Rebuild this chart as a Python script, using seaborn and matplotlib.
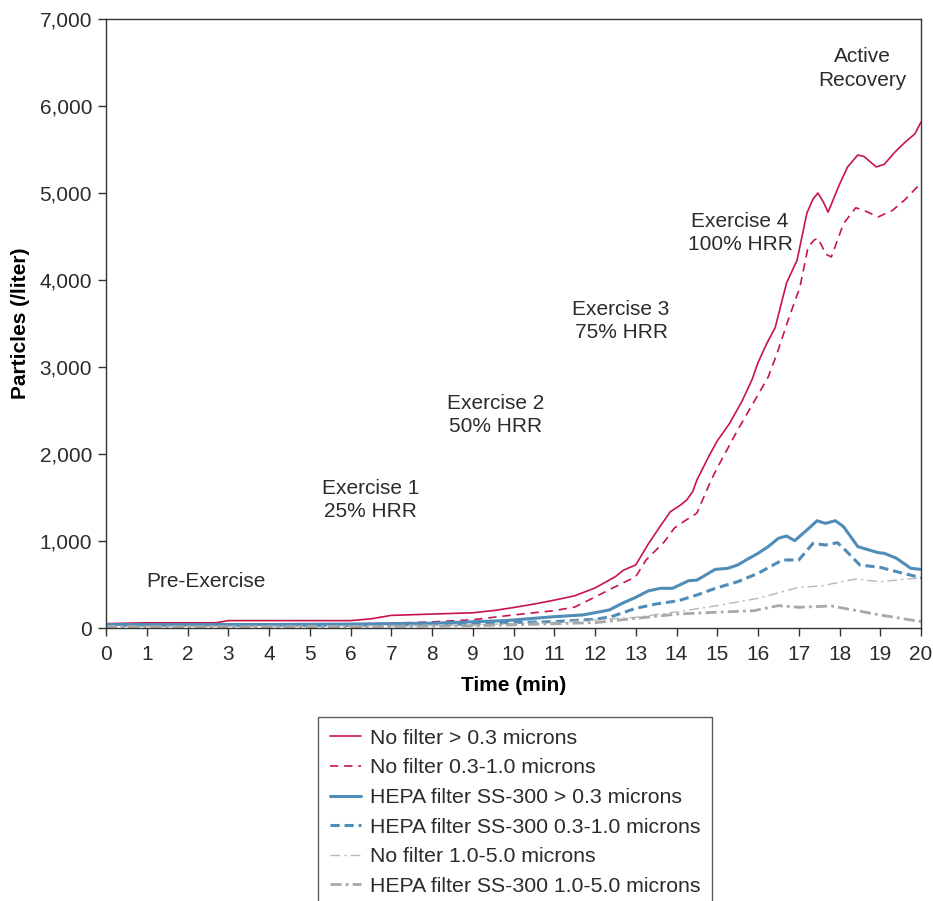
import numpy as np
import pandas as pd
import matplotlib
matplotlib.use("Agg")
import matplotlib.pyplot as plt
import seaborn as sns
from matplotlib.ticker import FuncFormatter, MultipleLocator

# ---------------- data ----------------
t_nf03 = [0, 1, 2, 2.7, 3, 4, 5, 6, 6.5, 7, 8, 9, 9.5, 10, 10.5, 11, 11.5, 12, 12.5, 12.7,
          13, 13.3, 13.6, 13.85, 14.1, 14.25, 14.4, 14.5, 14.8, 15, 15.3, 15.6, 15.85, 16.0,
          16.22, 16.42, 16.7, 16.96, 17.2, 17.35, 17.47, 17.6, 17.72, 18.0, 18.2, 18.45, 18.6,
          18.9, 19.1, 19.36, 19.6, 19.85, 20]
v_nf03 = [50, 60, 60, 60, 85, 85, 85, 85, 105, 145, 160, 175, 200, 235, 275, 320, 370, 460, 590, 665,
          725, 960, 1170, 1337, 1414, 1471, 1570, 1700, 1980, 2150, 2350, 2600, 2850, 3050,
          3275, 3450, 3965, 4230, 4770, 4930, 5000, 4900, 4780, 5100, 5300, 5437, 5420,
          5300, 5330, 5470, 5580, 5680, 5815]

t_nf0310 = [0, 1, 3, 6, 7, 8, 9, 10, 11, 11.5, 12, 12.5, 13, 13.25, 13.7, 13.95, 14.2, 14.5,
            14.85, 15, 15.5, 16, 16.25, 16.47, 16.74, 17.03, 17.23, 17.38, 17.47, 17.58, 17.65,
            17.8, 18.1, 18.4, 18.6, 18.95, 19.3, 19.6, 20]
v_nf0310 = [30, 35, 45, 45, 55, 70, 95, 150, 200, 240, 356, 475, 590, 780, 990, 1150, 1230, 1320,
            1700, 1840, 2275, 2680, 2885, 3160, 3540, 3920, 4380, 4460, 4480, 4380, 4300,
            4265, 4650, 4830, 4800, 4725, 4800, 4920, 5115]

t_he03 = [0, 2, 4, 6, 8, 9.8, 11, 11.7, 12, 12.35, 12.7, 13, 13.3, 13.6, 13.9, 14.3, 14.5,
          14.95, 15.25, 15.5, 15.75, 16, 16.25, 16.5, 16.7, 16.9, 17.2, 17.45, 17.65, 17.9,
          18.1, 18.45, 18.95, 19.1, 19.4, 19.75, 20]
v_he03 = [40, 40, 40, 45, 55, 85, 130, 150, 176, 207, 291, 352, 425, 456, 456, 544, 550,
          674, 685, 724, 793, 858, 935, 1031, 1057, 1004, 1126, 1233, 1203, 1233,
          1164, 935, 866, 858, 801, 686, 674]

t_he0310 = [0, 3, 6, 9, 9.8, 11, 12, 12.4, 13, 13.5, 14.05, 14.5, 14.95, 15.5, 16, 16.3, 16.6,
            17, 17.35, 17.65, 17.95, 18.1, 18.5, 19, 19.4, 20]
v_he0310 = [30, 30, 30, 45, 61, 73, 100, 130, 226, 276, 314, 379, 456, 532, 628, 705, 782,
            782, 973, 954, 980, 916, 724, 697, 648, 578]

t_nf1050 = [0, 3, 6, 9, 10, 11, 12, 13, 14.05, 14.95, 16, 17, 17.55, 18.4, 19, 20]
v_nf1050 = [20, 20, 25, 35, 50, 65, 92, 123, 188, 253, 341, 468, 483, 563, 532, 578]

t_he1050 = [0, 3, 6, 9, 9.8, 12, 13, 14.05, 14.95, 15.9, 16.5, 17, 17.8, 19, 20]
v_he1050 = [15, 15, 15, 25, 35, 61, 111, 161, 180, 199, 257, 238, 253, 150, 73]

labels = ["No filter > 0.3 microns",
          "No filter 0.3-1.0 microns",
          "HEPA filter SS-300 > 0.3 microns",
          "HEPA filter SS-300 0.3-1.0 microns",
          "No filter 1.0-5.0 microns",
          "HEPA filter SS-300 1.0-5.0 microns"]

phase_labels = ["Pre-Exercise", "Exercise 1\n25% HRR", "Exercise 2\n50% HRR",
                "Exercise 3\n75% HRR", "Exercise 4\n100% HRR", "Active\nRecovery"]
phase_x = [2.45, 6.5, 9.57, 12.64, 15.56, 18.55]
phase_y = [540, 1471, 2448, 3529, 4540, 6430]

# ---------------- style ----------------
sns.set_style("white")
plt.rcParams['font.family'] = ['Liberation Sans', 'DejaVu Sans']
plt.rcParams['font.size'] = 15

RED = "#c8144b"
BLUE = "#4f8db8"
TXT = "#2b2b2b"

fig = plt.figure(figsize=(9.33, 9.01), dpi=100)
ax = fig.add_axes([106 / 933, 1 - 628 / 901, (921 - 106) / 933, (628 - 19) / 901])

series = [
    (t_nf03, v_nf03, dict(color=RED, lw=1.2, ls="-")),
    (t_nf0310, v_nf0310, dict(color=RED, lw=1.2, dashes=(5, 3.5))),
    (t_he03, v_he03, dict(color=BLUE, lw=2.2, ls="-")),
    (t_he0310, v_he0310, dict(color=BLUE, lw=2.2, dashes=(3, 1.6))),
    (t_nf1050, v_nf1050, dict(color="#b8b8b8", lw=1.0, dashes=(7, 3, 1.5, 3))),
    (t_he1050, v_he1050, dict(color="#a8a8a8", lw=2.0, dashes=(4, 1.5, 1, 1.5))),
]

for (tt, vv, st), lab in zip(series, labels):
    df = pd.DataFrame({"Time": tt, "Particles": vv})
    sns.lineplot(data=df, x="Time", y="Particles", ax=ax, label=lab,
                 solid_joinstyle="round", dash_joinstyle="round", **st)

ax.set_xlim(0, 20)
ax.set_ylim(0, 7000)
ax.xaxis.set_major_locator(MultipleLocator(1))
ax.yaxis.set_major_locator(MultipleLocator(1000))
ax.yaxis.set_major_formatter(FuncFormatter(lambda v, p: f"{int(v):,}"))

ax.tick_params(axis="both", which="major", direction="out", length=6, width=1,
               color="#333333", labelsize=15, labelcolor=TXT,
               bottom=True, left=True)
ax.tick_params(axis="x", pad=6)
ax.tick_params(axis="y", pad=4)
for s in ax.spines.values():
    s.set_color("#333333")
    s.set_linewidth(1.0)

ax.set_xlabel("Time (min)", fontsize=15, fontweight="bold", color="black", labelpad=9)
ax.set_ylabel("Particles (/liter)", fontsize=15, fontweight="bold", color="black", labelpad=7)

for lab, x, y in zip(phase_labels, phase_x, phase_y):
    ax.text(x, y, lab, ha="center", va="center", multialignment="center",
            fontsize=15, color=TXT, linespacing=1.3)

leg = ax.legend(loc="upper left", bbox_to_anchor=(318 / 933, 1 - 717 / 901),
                bbox_transform=fig.transFigure, frameon=True, fancybox=False,
                fontsize=15.3, handlelength=1.45, handletextpad=0.45, labelspacing=0.5,
                borderpad=0.55, borderaxespad=0)
leg.get_frame().set_edgecolor("#333333")
leg.get_frame().set_linewidth(1.0)
for t in leg.get_texts():
    t.set_color(TXT)

fig.savefig("out.png", dpi=100)
